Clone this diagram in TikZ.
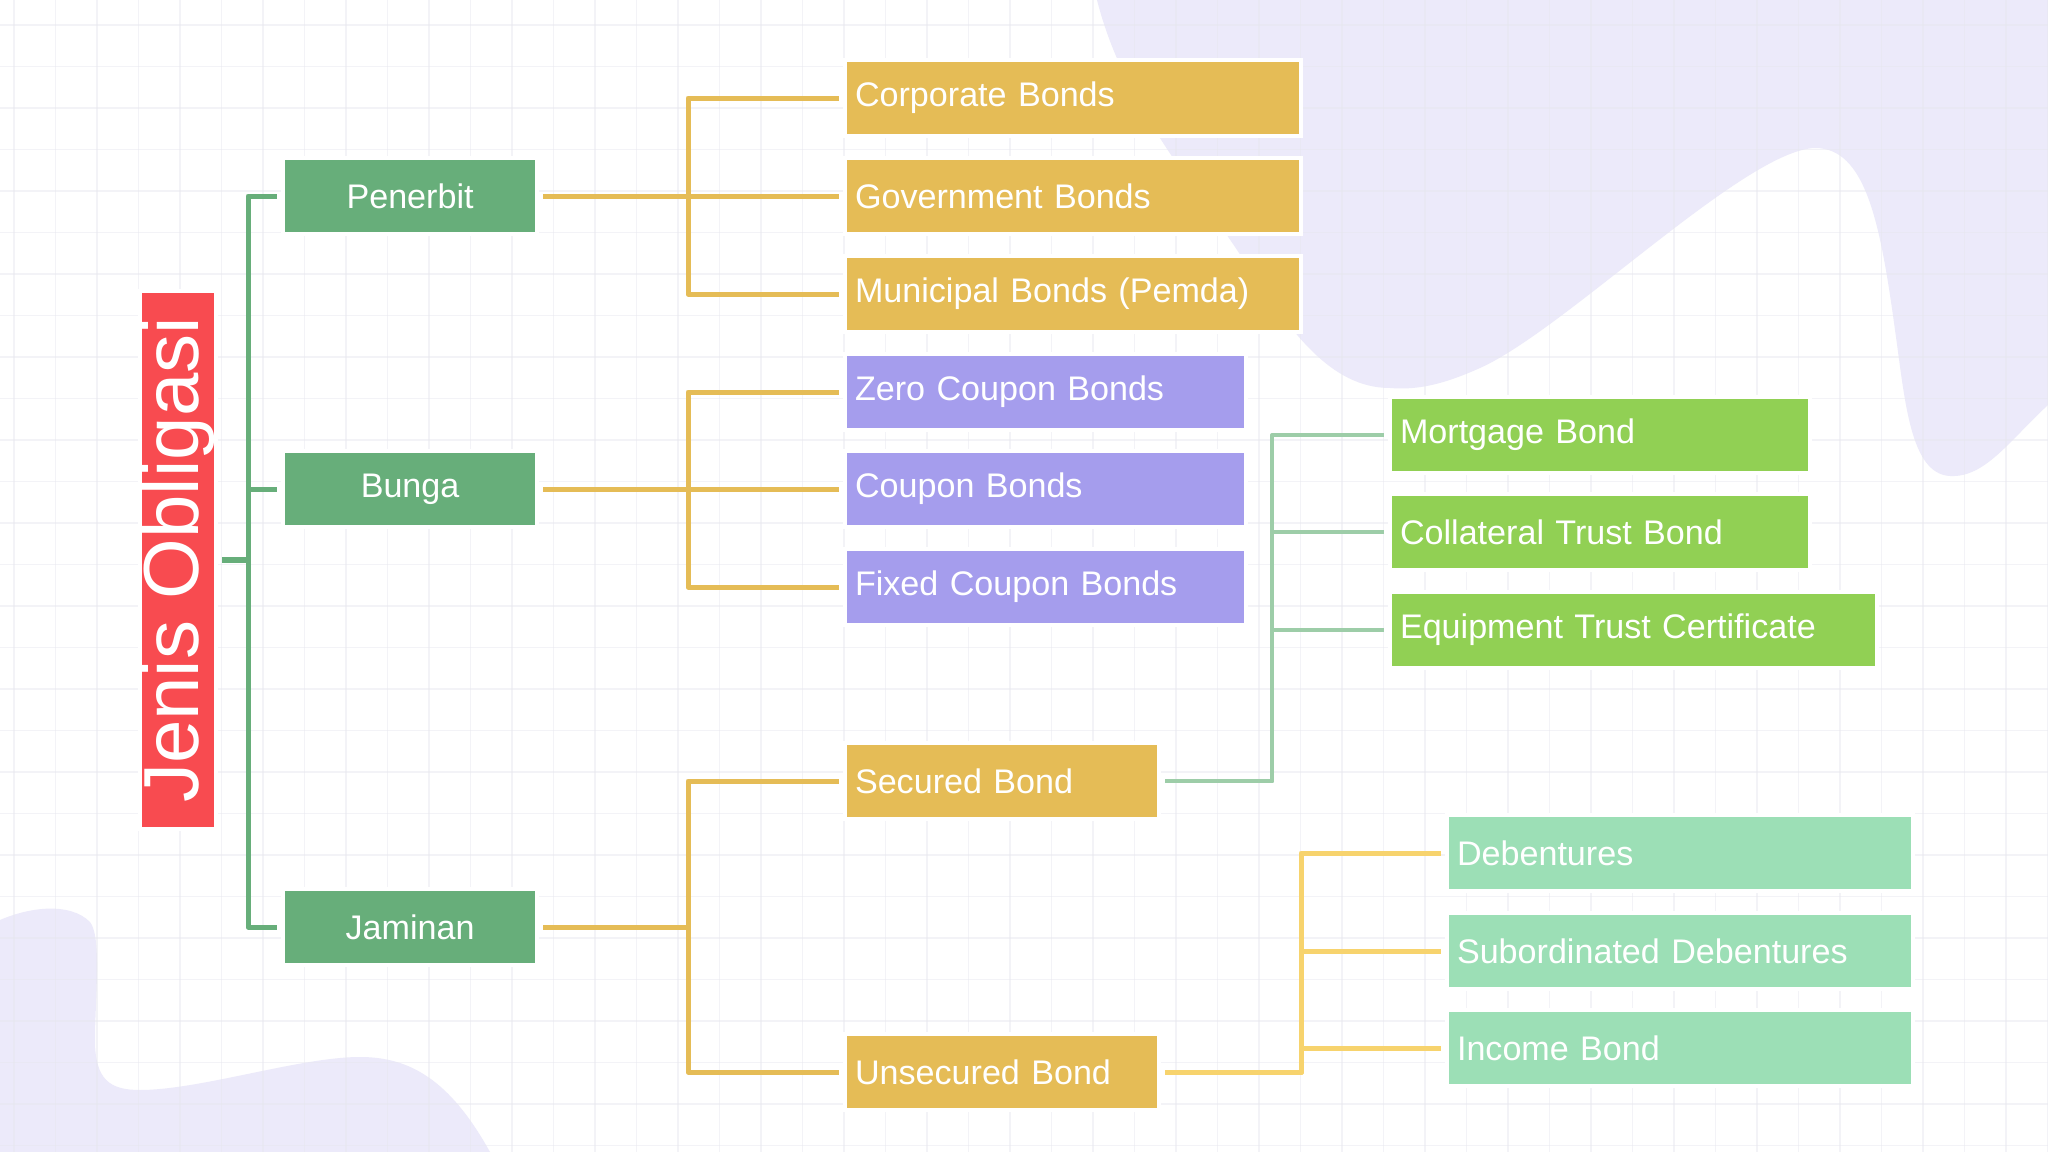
\documentclass[tikz,border=0pt]{standalone}
\usepackage{fontspec}
\setmainfont{Liberation Sans}
\usetikzlibrary{calc}

\definecolor{rootred}{HTML}{F84B50}
\definecolor{catgreen}{HTML}{67AE7A}
\definecolor{bondgold}{HTML}{E5BC56}
\definecolor{couppurple}{HTML}{A59DED}
\definecolor{limegreen}{HTML}{91D054}
\definecolor{mintgreen}{HTML}{9CDFB6}
\definecolor{sageline}{HTML}{9DCDA8}
\definecolor{paleyellow}{HTML}{F7D36D}
\definecolor{blobpurple}{HTML}{ECEAFA}
\definecolor{gridgray}{HTML}{E6E6EE}

\tikzset{
  box/.style={draw=white, line width=0.04cm, text=white, inner ysep=0pt, inner xsep=0.1cm,
    minimum height=0.76cm, font=\fontsize{9.7}{11.6}\selectfont},
  catbox/.style={box, fill=catgreen, minimum width=2.54cm, anchor=north west,
    xshift=-0.02cm, yshift=0.02cm},
  leaf/.style 2 args={box, fill=#1, text width=#2, align=left, anchor=north west,
    xshift=-0.02cm, yshift=0.02cm},
  rootbox/.style={box, fill=rootred, rotate=90, minimum width=5.38cm, minimum height=0.76cm,
    font=\fontsize{22.2}{26}\selectfont},
  link/.style={line width=0.05cm, line join=round, shorten <=0.04cm, shorten >=0.04cm},
  gridline/.style={gridgray, line width=0.015cm, opacity=0.45}
}

\begin{document}
\begin{tikzpicture}[x=0.01cm,y=-0.01cm]
 \useasboundingbox (0,0) rectangle (2048,1152);
 \fill[white] (0,0) rectangle (2048,1152);

 \fill[blobpurple] (1097,0) -- (2048,0) -- (2048,405)
   .. controls (2010,440) and (1985,478) .. (1950,476)
   .. controls (1910,474) and (1905,400) .. (1895,330)
   .. controls (1880,220) and (1865,148) .. (1815,148)
   .. controls (1745,150) and (1565,330) .. (1480,368)
   .. controls (1440,386) and (1415,390) .. (1390,388)
   .. controls (1330,388) and (1290,330) .. (1250,270)
   .. controls (1200,190) and (1125,110) .. (1097,0) -- cycle;
 \fill[blobpurple] (0,920)
   .. controls (30,907) and (70,902) .. (90,922)
   .. controls (102,937) and (95,1000) .. (95,1040)
   .. controls (95,1080) and (110,1090) .. (140,1090)
   .. controls (200,1090) and (300,1057) .. (360,1057)
   .. controls (410,1057) and (450,1080) .. (490,1152) -- (0,1152) -- cycle;

 \foreach \x in {14,55.5,...,2048} \draw[gridline] (\x,0) -- (\x,1152);
 \foreach \y in {25,66.5,...,1152} \draw[gridline] (0,\y) -- (2048,\y);

 \node[rootbox] (root) at (178,560) {Jenis Obligasi};

 \node[catbox] (pen) at (283,158) {Penerbit};
 \node[catbox] (bun) at (283,451) {Bunga};
 \node[catbox] (jam) at (283,889) {Jaminan};

 \node[leaf={bondgold}{4.36cm}] (corp) at (845,60) {Corporate Bonds};
 \node[leaf={bondgold}{4.36cm}] (gov) at (845,158) {Government Bonds};
 \node[leaf={bondgold}{4.36cm}] (muni) at (845,256) {Municipal Bonds (Pemda)};

 \node[leaf={couppurple}{3.81cm}] (zero) at (845,354) {Zero Coupon Bonds};
 \node[leaf={couppurple}{3.81cm}] (coup) at (845,451) {Coupon Bonds};
 \node[leaf={couppurple}{3.81cm}] (fixed) at (845,549) {Fixed Coupon Bonds};

 \node[leaf={bondgold}{2.94cm}] (sec) at (845,743) {Secured Bond};
 \node[leaf={bondgold}{2.94cm}] (unsec) at (845,1034) {Unsecured Bond};

 \node[leaf={limegreen}{4.00cm}] (mort) at (1390,397) {Mortgage Bond};
 \node[leaf={limegreen}{4.00cm}] (coll) at (1390,494) {Collateral Trust Bond};
 \node[leaf={limegreen}{4.67cm}] (equip) at (1390,592) {Equipment Trust Certificate};

 \node[leaf={mintgreen}{4.46cm}] (deb) at (1447,815) {Debentures};
 \node[leaf={mintgreen}{4.46cm}] (subdeb) at (1447,913) {Subordinated Debentures};
 \node[leaf={mintgreen}{4.46cm}] (inc) at (1447,1010) {Income Bond};

 \coordinate (tg) at (248,0);
 \coordinate (to) at (688,0);
 \coordinate (ts) at (1272,0);
 \coordinate (ty) at (1301,0);

 \foreach \c in {pen,bun,jam}
  \draw[link,catgreen] (root.south) -- (root.south -| tg) |- (\c.west);
 \foreach \c in {corp,gov,muni}
  \draw[link,bondgold] (pen.east) -- (pen.east -| to) |- (\c.west);
 \foreach \c in {zero,coup,fixed}
  \draw[link,bondgold] (bun.east) -- (bun.east -| to) |- (\c.west);
 \foreach \c in {sec,unsec}
  \draw[link,bondgold] (jam.east) -- (jam.east -| to) |- (\c.west);
 \foreach \c in {mort,coll,equip}
  \draw[link,sageline,line width=0.04cm] (sec.east) -- (sec.east -| ts) |- (\c.west);
 \foreach \c in {deb,subdeb,inc}
  \draw[link,paleyellow] (unsec.east) -- (unsec.east -| ty) |- (\c.west);
\end{tikzpicture}
\end{document}
